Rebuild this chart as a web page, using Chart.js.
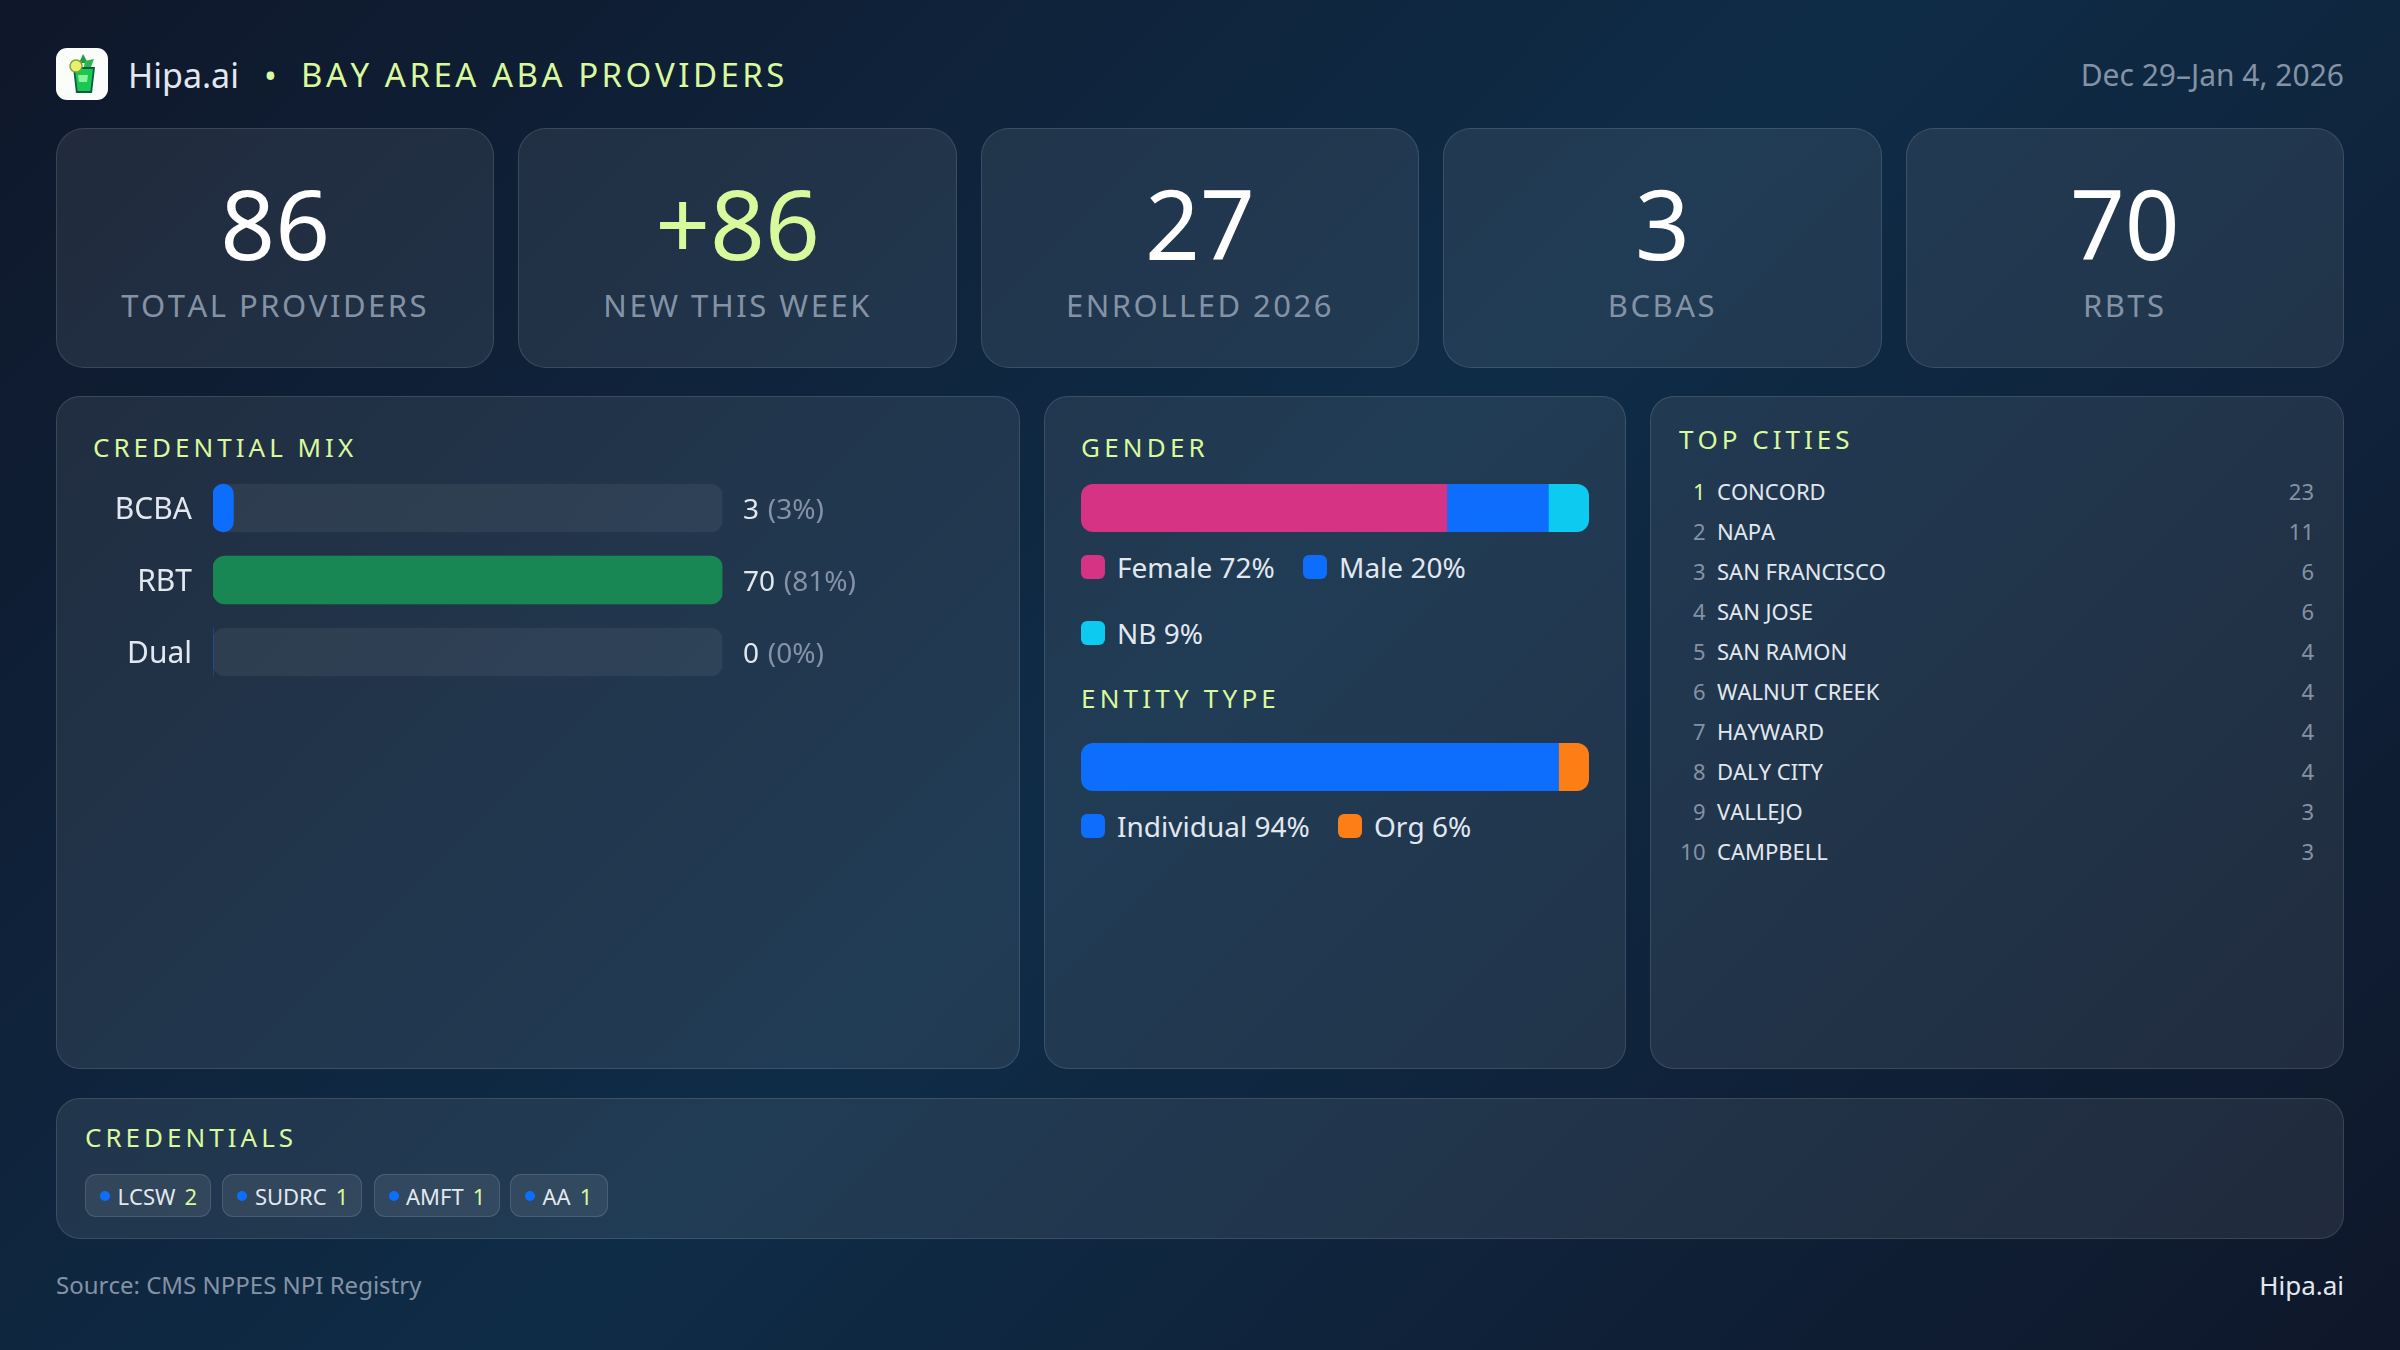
<!DOCTYPE html>
<html>
<head>
<meta charset="utf-8">
<title>Bay Area ABA Providers</title>
<script src="https://cdn.jsdelivr.net/npm/chart.js@4"></script>
<style>
  * { box-sizing: border-box; }
  html, body { margin: 0; width: 2400px; height: 1350px; overflow: hidden; }
  body {
    position: relative;
    font-family: "Noto Sans", sans-serif;
    font-kerning: none;
    color: #e2e8f0;
    background: linear-gradient(135deg, #0f172a 0%, #0f2c47 50%, #0f172a 100%);
  }
  .abs { position: absolute; white-space: nowrap; }
  .box { position: absolute; background: rgba(255,255,255,.08); border: 1.5px solid rgba(255,255,255,.12); border-radius: 24px; }
  .sec { position: absolute; white-space: nowrap; color: #d9f99d; font-size: 26px; line-height: 30px; letter-spacing: 4px; }
  .kpi { position: absolute; top: 128px; width: 438.4px; height: 240px; border-radius: 28px; text-align: center;
         background: rgba(255,255,255,.08); border: 1.5px solid rgba(255,255,255,.12); }
  .kpi .num { position: absolute; left: 0; right: 0; top: 39.5px; line-height: 108px; font-size: 96px; color: #fff; }
  .kpi .lab { position: absolute; left: 0; right: 0; top: 156px; line-height: 40px; font-size: 31px; letter-spacing: 2.5px; color: #8492a6; }
  .kpi .lime { color: #d9f99d; }
  .leg { position: absolute; white-space: nowrap; font-size: 28px; line-height: 40px; }
  .leg i { position: absolute; left: 0; top: 8px; width: 24px; height: 24px; border-radius: 6px; }
  .leg span { margin-left: 36px; }
  .city { position: absolute; left: 1650px; width: 694px; height: 40px; line-height: 40px; font-size: 22px; }
  .city b { position: absolute; font-weight: 400; }
  .city .r { left: 0; width: 55.5px; text-align: right; color: #8492a6; }
  .city .n { left: 67px; }
  .city .v { right: 30px; color: #8492a6; }
  .chip { position: absolute; top: 1174px; height: 43px; line-height: 43px; font-size: 22px; border-radius: 11px;
          background: rgba(255,255,255,.08); border: 1.5px solid rgba(255,255,255,.12); white-space: nowrap; }
  .chip i { position: absolute; left: 14px; top: 15.5px; width: 10px; height: 10px; border-radius: 50%; background: #0d6efd; }
  .chip span { position: absolute; left: 31.5px; }
  .chip em { font-style: normal; color: #d9f99d; margin-left: 9px; }
  canvas { position: absolute; }
</style>
</head>
<body>

<svg class="abs" style="left:56px;top:48px" width="52" height="52" viewBox="0 0 52 52">
  <rect width="52" height="52" rx="11" fill="#fbfdfb"/>
  <path d="M27 6l5 9h-9z" fill="#1f9d45"/>
  <path d="M29 13l9 -2l-3 8h-7z" fill="#2fb34f"/>
  <path d="M17 19h22l-3 26h-16z" fill="#0b5a4a"/>
  <path d="M19 21h18l-2.6 22h-12.8z" fill="#19c94f"/>
  <path d="M22 27h10l-1 7h-8z" fill="#8df09a"/>
  <circle cx="20" cy="18" r="6" fill="#e8f070" stroke="#7fa52d" stroke-width="1.5"/>
</svg>
<div class="abs" style="left:128px;top:49px;line-height:52px;font-size:34px">Hipa.ai</div>
<div class="abs" style="left:264px;top:49px;line-height:52px;font-size:34px;color:#d9f99d">•</div>
<div class="abs" style="left:301px;top:49px;line-height:52px;font-size:33px;letter-spacing:3.5px;color:#d9f99d">BAY AREA ABA PROVIDERS</div>
<div class="abs" style="right:56px;top:49px;line-height:52px;font-size:30px;color:#8492a6">Dec 29–Jan 4, 2026</div>

<div id="kpis"></div>

<div class="box" style="left:56px;top:396px;width:964px;height:673px"></div>
<div class="box" style="left:1044px;top:396px;width:582px;height:673px"></div>
<div class="box" style="left:1650px;top:396px;width:694px;height:673px"></div>
<div class="box" style="left:56px;top:1098px;width:2288px;height:141px"></div>

<div class="sec" style="left:93px;top:432px">CREDENTIAL MIX</div>
<canvas id="credChart" style="left:60px;top:472px" width="900" height="216"></canvas>

<div class="sec" style="left:1081px;top:432px;letter-spacing:4.2px">GENDER</div>
<canvas id="genderChart" style="left:1081px;top:484px" width="508" height="48"></canvas>
<div id="genderLegend"></div>

<div class="sec" style="left:1081px;top:683px;letter-spacing:4.2px">ENTITY TYPE</div>
<canvas id="entityChart" style="left:1081px;top:743px" width="508" height="48"></canvas>
<div id="entityLegend"></div>

<div class="sec" style="left:1679px;top:424px">TOP CITIES</div>
<div id="cities"></div>

<div class="sec" style="left:85px;top:1122px">CREDENTIALS</div>
<div id="chips"></div>

<div class="abs" style="left:56px;top:1265px;line-height:40px;font-size:24px;color:#8492a6">Source: CMS NPPES NPI Registry</div>
<div class="abs" style="right:56px;top:1265px;line-height:40px;font-size:26px">Hipa.ai</div>

<script>
const kpiValues = ["86", "+86", "27", "3", "70"];
const kpiLabels = ["TOTAL PROVIDERS", "NEW THIS WEEK", "ENROLLED 2026", "BCBAS", "RBTS"];

const credLabels = ["BCBA", "RBT", "Dual"];
const credCounts = [3, 70, 0];
const credShares = [3, 81, 0];
// bar length in % of the track
const credBarLengths = [4, 100, 0];
const credTrack = [100, 100, 100];

const genderNames = ["Female", "Male", "NB"];
const genderValues = [72, 20, 9];
const entityNames = ["Individual", "Org"];
const entityValues = [94, 6];

const cityNames = ["CONCORD", "NAPA", "SAN FRANCISCO", "SAN JOSE", "SAN RAMON", "WALNUT CREEK", "HAYWARD", "DALY CITY", "VALLEJO", "CAMPBELL"];
const cityCounts = [23, 11, 6, 6, 4, 4, 4, 4, 3, 3];

const otherCreds = ["LCSW", "SUDRC", "AMFT", "AA"];
const otherCredCounts = [2, 1, 1, 1];

const BLUE = "#0d6efd", GREEN = "#198754", PINK = "#d63384", CYAN = "#0dcaf0", ORANGE = "#fd7e14";
const FONT = '"Noto Sans", sans-serif';

// kpi cards
const kpiBox = document.getElementById("kpis");
kpiValues.forEach((v, i) => {
  const d = document.createElement("div");
  d.className = "kpi";
  d.style.left = (56 + i * 462.4) + "px";
  d.innerHTML = `<div class="num ${i == 1 ? "lime" : ""}">${v}</div><div class="lab">${kpiLabels[i]}</div>`;
  kpiBox.appendChild(d);
});

// count labels next to the tracks
const valueLabels = {
  id: "valueLabels",
  afterDatasetsDraw(chart) {
    const ctx = chart.ctx;
    ctx.save();
    ctx.font = "28px " + FONT;
    ctx.textBaseline = "middle";
    credCounts.forEach((c, i) => {
      const y = chart.scales.y.getPixelForValue(i) + 3;
      let x = chart.chartArea.right + 20.5;
      ctx.fillStyle = "#e2e8f0";
      ctx.fillText(String(c), x, y);
      x += ctx.measureText(c + " ").width + 1.5;
      ctx.fillStyle = "#8492a6";
      ctx.fillText(`(${credShares[i]}%)`, x, y);
    });
    ctx.restore();
  }
};

new Chart(document.getElementById("credChart"), {
  type: "bar",
  data: {
    labels: credLabels,
    datasets: [
      { data: credBarLengths, backgroundColor: [BLUE, GREEN, BLUE], order: 0, grouped: false, barThickness: 48, borderRadius: 12, borderSkipped: false },
      { data: credTrack, backgroundColor: "rgba(255,255,255,.06)", order: 1, grouped: false, barThickness: 48, borderRadius: 12, borderSkipped: false },
    ]
  },
  options: {
    indexAxis: "y",
    responsive: false,
    animation: false,
    devicePixelRatio: 1,
    layout: { padding: { right: 237.5 } },
    plugins: { legend: { display: false }, tooltip: { enabled: false } },
    scales: {
      x: { display: false, min: 0, max: 100 },
      y: {
        // tick padding would otherwise also inset the plot vertically
        afterFit: s => { s.width = 153; s.paddingTop = 0; s.paddingBottom = 0; },
        grid: { display: false, drawTicks: false },
        border: { display: false },
        ticks: { color: "#e2e8f0", padding: 21, labelOffset: 2.5, font: { family: FONT, size: 30 } },
      },
    },
  },
  plugins: [valueLabels],
});

// the track clips the stack, that is why 72+20+9 still fits
const roundClip = {
  id: "roundClip",
  beforeDatasetsDraw(chart) {
    const a = chart.chartArea;
    chart.ctx.save();
    chart.ctx.beginPath();
    chart.ctx.roundRect(a.left, a.top, a.right - a.left, a.bottom - a.top, 12);
    chart.ctx.clip();
  },
  afterDatasetsDraw(chart) { chart.ctx.restore(); }
};

function stackedBar(id, names, values, colors) {
  new Chart(document.getElementById(id), {
    type: "bar",
    data: {
      labels: [id],
      datasets: names.map((n, i) => ({ label: n, data: [values[i]], backgroundColor: colors[i], barPercentage: 1, categoryPercentage: 1 })),
    },
    options: {
      indexAxis: "y",
      responsive: false,
      animation: false,
      devicePixelRatio: 1,
      plugins: { legend: { display: false }, tooltip: { enabled: false } },
      scales: {
        x: { display: false, stacked: true, min: 0, max: 100 },
        y: { display: false, stacked: true },
      },
    },
    plugins: [roundClip],
  });
}
stackedBar("genderChart", genderNames, genderValues, [PINK, BLUE, CYAN]);
stackedBar("entityChart", entityNames, entityValues, [BLUE, ORANGE]);

function legendItem(parent, name, value, color, x, y) {
  const d = document.createElement("div");
  d.className = "leg";
  d.style.left = x + "px";
  d.style.top = y + "px";
  d.innerHTML = `<i style="background:${color}"></i><span>${name} ${value}%</span>`;
  document.getElementById(parent).appendChild(d);
}
legendItem("genderLegend", genderNames[0], genderValues[0], PINK, 1081, 547);
legendItem("genderLegend", genderNames[1], genderValues[1], BLUE, 1303, 547);
legendItem("genderLegend", genderNames[2], genderValues[2], CYAN, 1081, 613);
legendItem("entityLegend", entityNames[0], entityValues[0], BLUE, 1081, 806);
legendItem("entityLegend", entityNames[1], entityValues[1], ORANGE, 1338, 806);

// top cities list
cityNames.forEach((name, i) => {
  const d = document.createElement("div");
  d.className = "city";
  d.style.top = (471 + i * 40) + "px";
  d.innerHTML = `<b class="r" ${i == 0 ? 'style="color:#d9f99d"' : ""}>${i + 1}</b><b class="n">${name}</b><b class="v">${cityCounts[i]}</b>`;
  document.getElementById("cities").appendChild(d);
});

// credential chips
const chipLefts = [85, 222.4, 373.5, 510];
const chipWidths = [126, 139.5, 126, 97.7];
otherCreds.forEach((c, i) => {
  const d = document.createElement("div");
  d.className = "chip";
  d.style.left = chipLefts[i] + "px";
  d.style.width = chipWidths[i] + "px";
  d.innerHTML = `<i></i><span>${c}<em>${otherCredCounts[i]}</em></span>`;
  document.getElementById("chips").appendChild(d);
});
</script>
</body>
</html>
